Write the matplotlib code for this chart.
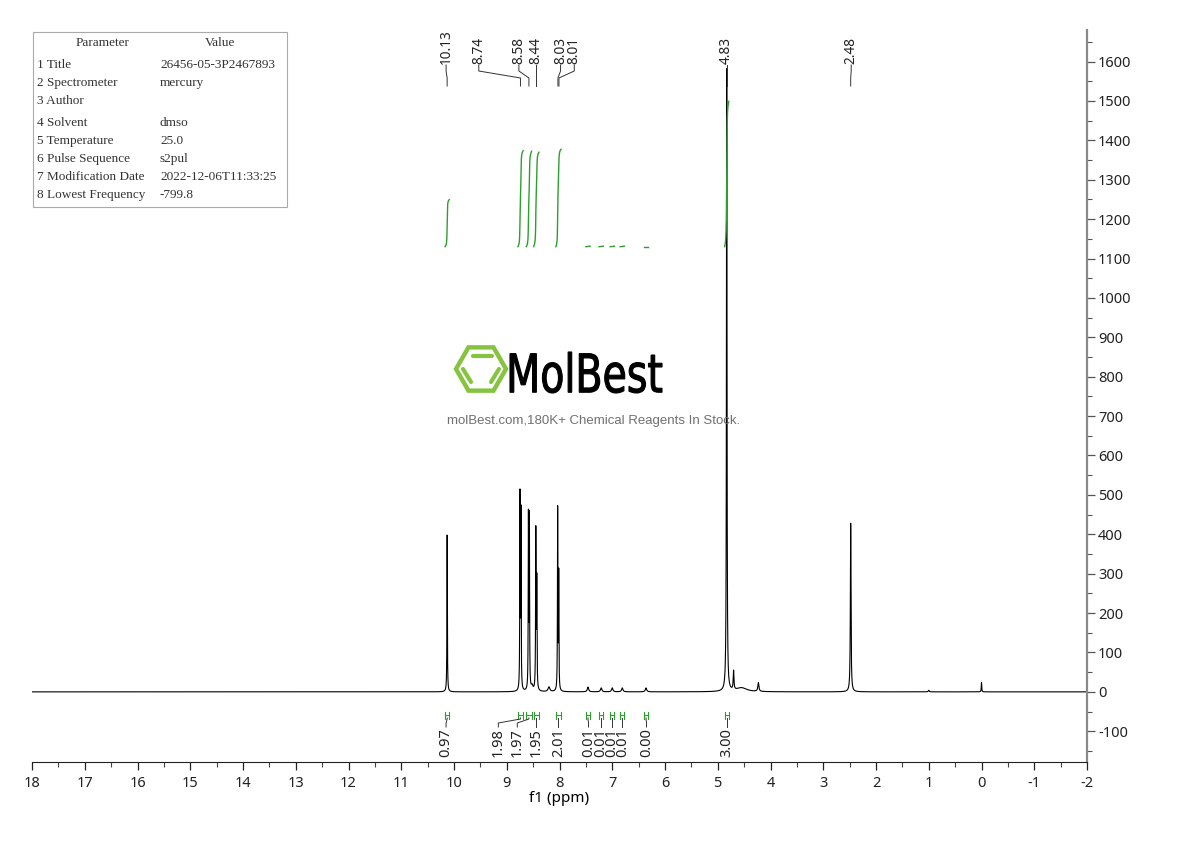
import numpy as np
import matplotlib
matplotlib.use("Agg")
from matplotlib import pyplot as plt
from matplotlib.ticker import MultipleLocator
from matplotlib.transforms import blended_transform_factory, Affine2D
from matplotlib.textpath import TextPath
from matplotlib.patches import PathPatch, RegularPolygon, Rectangle
from matplotlib.font_manager import FontProperties

# peaks of the spectrum: shift (ppm), height, half width (ppm)
peak_ppm = [10.13, 8.749, 8.731, 8.589, 8.571, 8.449, 8.431, 8.035, 8.015,
            8.52, 8.20, 7.46, 7.21, 7.00, 6.81, 6.36,
            4.83, 4.70, 4.55, 4.23, 2.48, 1.00, 0.00]
peak_height = [398, 488, 445, 436, 432, 400, 272, 458, 292,
               12, 12, 12, 10, 10, 10, 10,
               1580, 48, 10, 22, 428, 4, 24]
peak_width = [0.0045, 0.0045, 0.0045, 0.0045, 0.0045, 0.005, 0.005, 0.0045, 0.0045,
              0.02, 0.02, 0.015, 0.015, 0.015, 0.015, 0.015,
              0.006, 0.008, 0.12, 0.012, 0.007, 0.01, 0.005]

# integral regions and values
int_start = [10.17, 8.79, 8.63, 8.49, 8.07, 7.50, 7.25, 7.04, 6.85, 6.40, 4.87]
int_end = [10.09, 8.69, 8.53, 8.39, 7.97, 7.42, 7.17, 6.96, 6.77, 6.32, 4.79]
int_value = ["0.97", "1.98", "1.97", "1.95", "2.01", "0.01", "0.01", "0.01", "0.01", "0.00", "3.00"]
int_label_ppm = [10.15, 9.16, 8.80, 8.44, 8.02, 7.45, 7.21, 7.00, 6.81, 6.35, 4.83]

# peak picking labels
pick_ppm = [10.13, 8.74, 8.58, 8.44, 8.03, 8.01, 4.83, 2.48]
pick_label_ppm = [10.15, 9.53, 8.77, 8.44, 7.98, 7.72, 4.83, 2.47]

# parameter table
param_names = ["1 Title", "2 Spectrometer", "3 Author", "4 Solvent", "5 Temperature",
               "6 Pulse Sequence", "7 Modification Date", "8 Lowest Frequency"]
param_values = ["26456-05-3P2467893", "mercury", "", "dmso", "25.0", "s2pul",
                "2022-12-06T11:33:25", "-799.8"]

x = np.linspace(18, -2, 60001)
y = np.zeros_like(x)
for p, h, w in zip(peak_ppm, peak_height, peak_width):
    y += h / (1 + ((x - p) / w) ** 2)

fig = plt.figure(figsize=(11.9, 8.41), dpi=100)
W, H = 1190, 841
ax = fig.add_axes([32 / W, 1 - 762 / H, (1087 - 32) / W, (762 - 30) / H])
ax.plot(x, y, color="black", lw=0.8)
ax.set_xlim(18, -2)
ax.set_ylim(-178, 1680)

font = "Noto Sans"
ax.spines["top"].set_visible(False)
ax.spines["left"].set_visible(False)
ax.spines["right"].set_color("#8a8a8a")
ax.spines["right"].set_linewidth(1.6)
ax.spines["bottom"].set_color("#222222")
ax.yaxis.tick_right()
ax.yaxis.set_major_locator(MultipleLocator(100))
ax.yaxis.set_minor_locator(MultipleLocator(50))
ax.xaxis.set_major_locator(MultipleLocator(1))
ax.xaxis.set_minor_locator(MultipleLocator(0.5))
ax.tick_params(axis="both", which="major", direction="out", length=6, width=0.9,
               labelsize=10.5, colors="#222222")
ax.tick_params(axis="both", which="minor", direction="out", length=3.5, width=0.8, colors="#444444")
ax.tick_params(axis="y", which="both", colors="#555555", labelcolor="#222222", pad=2)
ax.tick_params(axis="x", which="major", pad=4)
for lab in ax.get_xticklabels() + ax.get_yticklabels():
    lab.set_fontfamily(font)
ax.xaxis.set_major_formatter(matplotlib.ticker.FuncFormatter(lambda v, p: f"{v:g}"))
ax.yaxis.set_major_formatter(matplotlib.ticker.FuncFormatter(lambda v, p: f"{v:g}"))
ax.set_xlabel("f1 (ppm)", fontsize=11, family=font, labelpad=0)

tr = blended_transform_factory(ax.transData, ax.transAxes)

def fy(py):
    return (762 - py) / 732

# integral curves
green = "#2e9e2e"
base = 1130
for s, e, v in zip(int_start, int_end, int_value):
    m = (x <= s) & (x >= e)
    xs = x[m]
    cum = np.cumsum(y[m])
    cum = (cum - cum[0]) / (cum[-1] - cum[0])
    ax.plot(xs, base + cum * float(v) * 123, color=green, lw=1.0)
    # region marker
    ax.plot([s, e], [fy(715), fy(715)], color=green, lw=0.8, transform=tr)
    ax.plot([s, s], [fy(712), fy(719)], color=green, lw=0.8, transform=tr)
    ax.plot([e, e], [fy(712), fy(719)], color=green, lw=0.8, transform=tr)

for s, e, v, lp in zip(int_start, int_end, int_value, int_label_ppm):
    c = (s + e) / 2
    ax.plot([lp, lp, c, c], [fy(727), fy(723), fy(719), fy(718)], color="#333333", lw=0.7,
            transform=tr)
    ax.text(lp, fy(728), v, rotation=90, ha="center", va="top", fontsize=10.5,
            family=font, color="#222222", transform=tr)

# peak picking labels
for p, lp in zip(pick_ppm, pick_label_ppm):
    ax.plot([lp, lp, p, p], [fy(65), fy(71), fy(78), fy(86)], color="#333333", lw=0.7,
            transform=tr)
    ax.text(lp, fy(64), f"{p:.2f}", rotation=90, ha="center", va="bottom", fontsize=9.8,
            family=font, color="#222222", transform=tr)

# parameter table
fig.patches.append(Rectangle((33 / W, 1 - 207 / H), (287 - 33) / W, (207 - 32) / H,
                             transform=fig.transFigure, fill=False, edgecolor="#aaaaaa", lw=0.8))
tfont = dict(family="Liberation Serif", fontsize=9.5, color="#333333", va="center")
fig.text(103 / W, 1 - 43 / H, "Parameter", ha="center", **tfont)
fig.text(220 / W, 1 - 43 / H, "Value", ha="center", **tfont)
row_y = [65, 83, 101, 123, 141, 159, 177, 195]
for ry, n, v in zip(row_y, param_names, param_values):
    fig.text(37 / W, 1 - ry / H, n, ha="left", **tfont)
    fig.text(160 / W, 1 - ry / H, v, ha="left", **tfont)

# watermark logo
lax = fig.add_axes([450 / W, 1 - 400 / H, 220 / W, 60 / H])
lax.set_xlim(0, 220)
lax.set_ylim(0, 60)
lax.axis("off")
lgreen = "#86c440"
lax.add_patch(RegularPolygon((31, 31), 6, radius=25, orientation=np.pi / 6, fill=False,
                             edgecolor=lgreen, lw=3.2))
lax.plot([23, 42], [44, 44], color=lgreen, lw=3.0, solid_capstyle="round")
lax.plot([13, 21], [31, 18], color=lgreen, lw=3.0, solid_capstyle="round")
lax.plot([49, 41], [31, 18], color=lgreen, lw=3.0, solid_capstyle="round")
tp = TextPath((0, 0), "MolBest", size=56, prop=FontProperties(family="DejaVu Sans"))
ext = tp.get_extents()
sx = 152 / ext.width
sy = 41 / ext.height
tp_t = Affine2D().translate(-ext.x0, -ext.y0).scale(sx, sy).translate(60, 7)
lax.add_patch(PathPatch(tp_t.transform_path(tp), facecolor="black", edgecolor="black", lw=0.8))
fig.text(594 / W, 1 - 421 / H, "molBest.com,180K+ Chemical Reagents In Stock.", ha="center",
         va="center", fontsize=9.5, family="Liberation Sans", color="#707070")

fig.savefig("out.png", dpi=100, facecolor="white")
